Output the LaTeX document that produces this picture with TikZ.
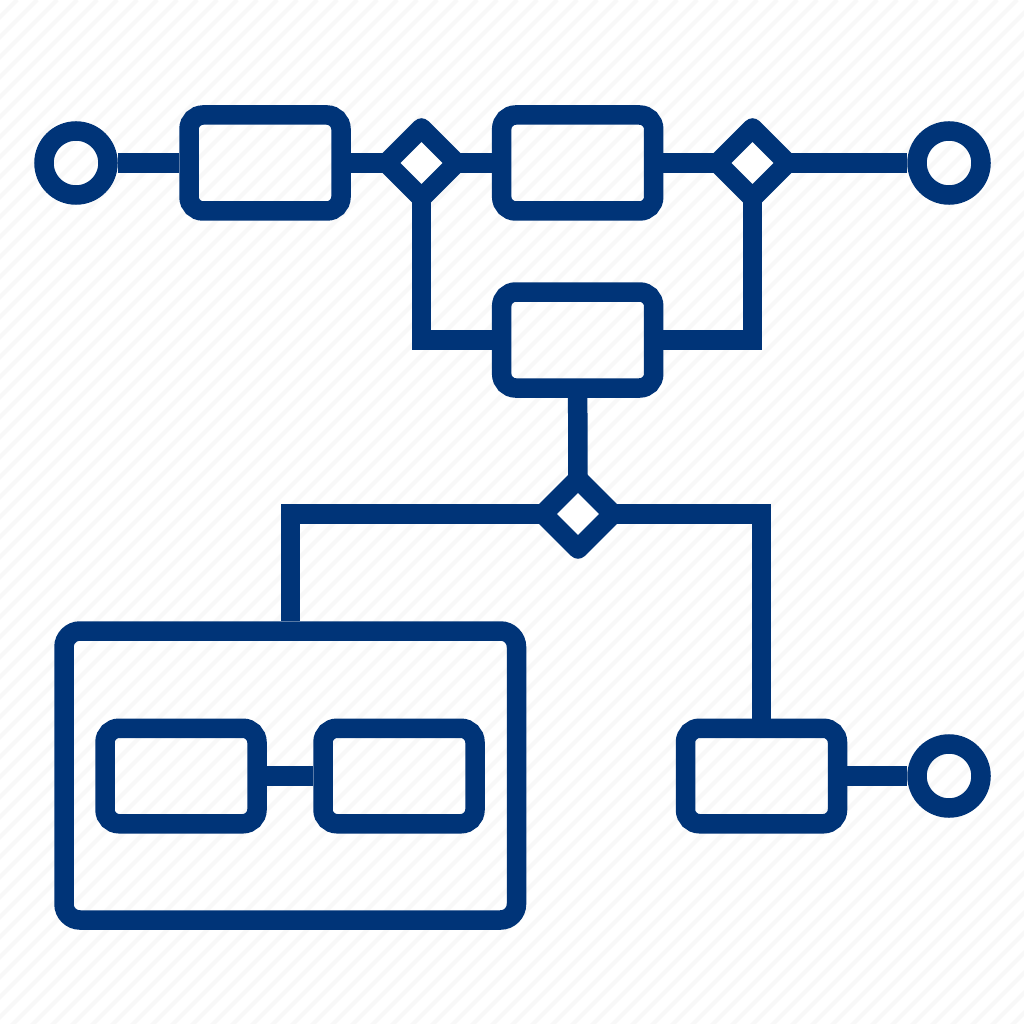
\documentclass[tikz,border=0pt]{standalone}
\usetikzlibrary{backgrounds}
\pgfdeclarelayer{front}
\pgfsetlayers{background,main,front}
\definecolor{navy}{RGB}{0,52,120}
\definecolor{stripe}{RGB}{248,248,248}
\begin{document}
\begin{tikzpicture}[x=1pt,y=-1pt,
  lw/.style={line width=19.5pt},
  box/.style={draw=navy,lw,rectangle,rounded corners=14pt,inner sep=0pt,minimum width=152pt,minimum height=96pt},
  port/.style={draw=navy,lw,circle,inner sep=0pt,minimum size=64pt},
  gate/.style={draw=navy,fill=white,lw,rectangle,rotate=45,inner sep=0pt,minimum size=49.5pt,line join=round},
  wire/.style={draw=navy,line width=19.5pt,line join=miter}]
\useasboundingbox (0,0) rectangle (1024,1024);
\begin{pgfonlayer}{background}
  \fill[white] (0,0) rectangle (1024,1024);
  \begin{scope}
    \clip (0,0) rectangle (1024,1024);
    \foreach \c in {-3,17,...,2060} {
      \draw[stripe,line width=4pt] (\c,0) -- (\c-1100,1100);
    }
  \end{scope}
\end{pgfonlayer}
% nodes
\node[port] (c1) at (76,163) {};
\node[box] (b1) at (265,163) {};
\begin{pgfonlayer}{front}
\node[gate] (d1) at (421.5,163) {};
\node[gate] (d2) at (752.5,163) {};
\node[gate] (d3) at (578,514) {};
\end{pgfonlayer}
\node[box] (b2) at (577.7,163) {};
\node[port] (c2) at (949,163) {};
\node[box] (b3) at (577.7,340) {};
\node[box,minimum width=452.5pt,minimum height=289pt,rounded corners=16pt] (big) at (290.25,775.5) {};
\node[box,minimum height=95.5pt] (s1) at (181,776) {};
\node[box,minimum height=95.5pt] (s2) at (399,776) {};
\node[box,minimum height=95.5pt] (b4) at (761.5,776) {};
\node[port] (c3) at (949,776) {};
% connectors
\path[wire] (c1.east) -- (b1.west);
\path[wire] (b1.east) -- (d1.center);
\path[wire] (d1.center) -- (b2.west);
\path[wire] (b2.east) -- (d2.center);
\path[wire] (d2.center) -- (c2.west);
\path[wire] (d1.center) |- (b3.west);
\path[wire] (d2.center) |- (b3.east);
\path[wire] (b3.south) -- (d3.center);
\path[wire] (d3.center) -| (big.north);
\path[wire] (d3.center) -| (b4.north);
\path[wire] (s1.east) -- (s2.west);
\path[wire] (b4.east) -- (c3.west);
\end{tikzpicture}
\end{document}
